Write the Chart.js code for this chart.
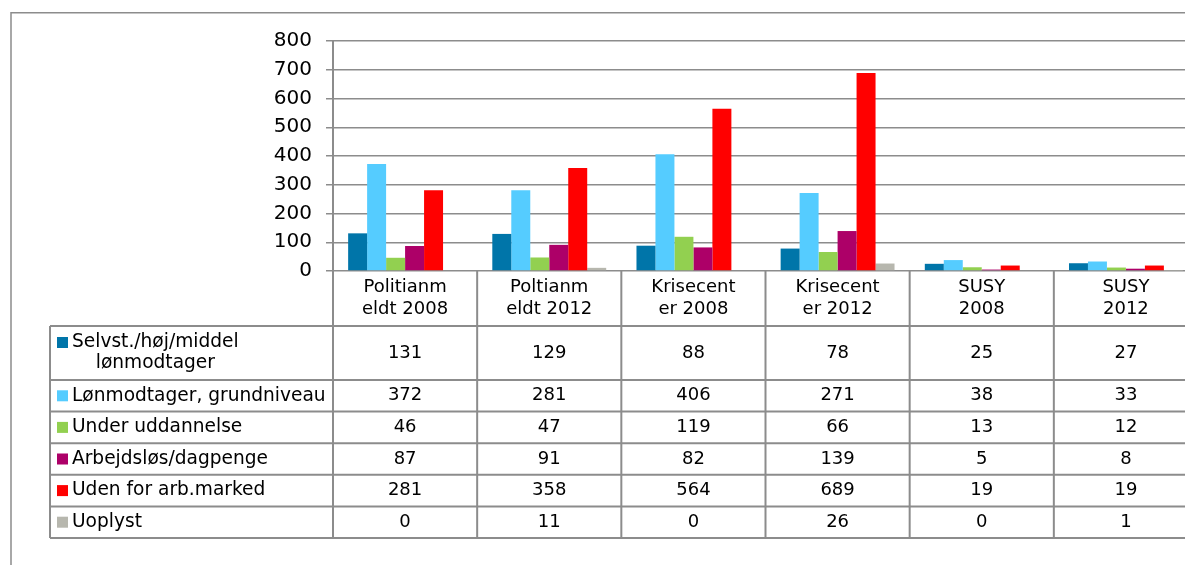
<!DOCTYPE html>
<html>
<head>
<meta charset="utf-8">
<script src="https://cdn.jsdelivr.net/npm/chart.js@4.4.1/dist/chart.umd.min.js"></script>
<style>
  html, body { margin: 0; padding: 0; background: #fff; overflow: hidden; }
  #wrap { position: absolute; left: 0; top: 0; width: 1200px; height: 565px; }
</style>
</head>
<body>
<div id="wrap"><canvas id="chart"></canvas></div>
<script>
// Kategorien (zweizeilig wie im Original umbrochen)
const CATEGORIES = [
  ['Politianm', 'eldt 2008'],
  ['Poltianm', 'eldt 2012'],
  ['Krisecent', 'er 2008'],
  ['Krisecent', 'er 2012'],
  ['SUSY', '2008'],
  ['SUSY', '2012'],
];

// Serien
const SERIES_NAMES = [
  ['Selvst./høj/middel', 'lønmodtager'],
  ['Lønmodtager, grundniveau'],
  ['Under uddannelse'],
  ['Arbejdsløs/dagpenge'],
  ['Uden for arb.marked'],
  ['Uoplyst'],
];
const SELVST     = [131, 129,  88,  78, 25, 27];
const GRUND      = [372, 281, 406, 271, 38, 33];
const UDDANNELSE = [ 46,  47, 119,  66, 13, 12];
const ARBEJDSLOS = [ 87,  91,  82, 139,  5,  8];
const UDEN       = [281, 358, 564, 689, 19, 19];
const UOPLYST    = [  0,  11,   0,  26,  0,  1];

const Y_MIN = 0, Y_MAX = 800, Y_STEP = 100;

const COLORS = ['#0075a9', '#55ccff', '#92d050', '#ad0068', '#ff0000', '#b7b7ae'];
const SERIES = [SELVST, GRUND, UDDANNELSE, ARBEJDSLOS, UDEN, UOPLYST];

const FONT = '"DejaVu Sans", Verdana, sans-serif';
const LINE = '#8c8c8c';

// Datentabelle + Rahmen unter dem Diagramm (nutzt die x-Skala des Charts)
const dataTable = {
  id: 'dataTable',
  afterDraw(chart) {
    const { ctx, chartArea } = chart;
    const n = CATEGORIES.length;
    const colW = (chartArea.right - chartArea.left) / n;
    const top = chartArea.bottom;           // Nulllinie
    const headerBottom = top + 55;
    const tableLeft = 50;
    const rowH = [54, 31.6, 31.6, 31.6, 31.6, 31.6];
    const rowTops = [headerBottom];
    rowH.forEach(h => rowTops.push(rowTops[rowTops.length - 1] + h));
    const tableBottom = rowTops[rowTops.length - 1];
    const W = chart.width;

    ctx.save();
    ctx.strokeStyle = LINE;
    ctx.lineWidth = 2;

    // horizontale Linien
    rowTops.forEach(y => {
      ctx.beginPath(); ctx.moveTo(tableLeft, y); ctx.lineTo(W, y); ctx.stroke();
    });
    // linker Tabellenrand
    ctx.beginPath(); ctx.moveTo(tableLeft, headerBottom); ctx.lineTo(tableLeft, tableBottom); ctx.stroke();
    // Spaltengrenzen
    for (let i = 0; i <= n; i++) {
      const x = chartArea.left + i * colW;
      ctx.beginPath(); ctx.moveTo(x, top); ctx.lineTo(x, tableBottom); ctx.stroke();
    }

    ctx.fillStyle = '#000';
    ctx.font = '18px ' + FONT;
    ctx.textBaseline = 'middle';

    // Kopfzeile
    ctx.textAlign = 'center';
    const hc = (top + headerBottom) / 2;
    CATEGORIES.forEach((lab, i) => {
      const cx = chartArea.left + (i + 0.5) * colW;
      ctx.fillText(lab[0], cx, hc - 11);
      ctx.fillText(lab[1], cx, hc + 11);
    });

    // Zeilen: Legendenschlüssel, Name, Werte
    SERIES.forEach((vals, r) => {
      const yc = (rowTops[r] + rowTops[r + 1]) / 2;
      const names = SERIES_NAMES[r];
      const y1 = names.length > 1 ? yc - 10.5 : yc;
      ctx.fillStyle = COLORS[r];
      ctx.fillRect(57, y1 - 5.5, 11, 11);
      ctx.fillStyle = '#000';
      ctx.font = '18.6px ' + FONT;
      ctx.textAlign = 'left';
      ctx.fillText(names[0], 72, y1);
      if (names.length > 1) {
        const mid = 72 + ctx.measureText(names[0]).width / 2;
        ctx.textAlign = 'center';
        ctx.fillText(names[1], mid, yc + 10.5);
      }
      ctx.font = '18px ' + FONT;
      ctx.textAlign = 'center';
      vals.forEach((v, i) => {
        ctx.fillText(String(v), chartArea.left + (i + 0.5) * colW, yc);
      });
    });

    // äußerer Rahmen (rechts/unten abgeschnitten)
    ctx.lineWidth = 1.5;
    ctx.beginPath();
    ctx.moveTo(11, chart.height);
    ctx.lineTo(11, 12.75);
    ctx.lineTo(W, 12.75);
    ctx.stroke();
    ctx.restore();
  }
};

new Chart(document.getElementById('chart'), {
  type: 'bar',
  data: {
    labels: CATEGORIES,
    datasets: SERIES.map((d, i) => ({
      label: SERIES_NAMES[i].join(' '),
      data: d,
      backgroundColor: COLORS[i],
      borderWidth: 0,
      barPercentage: 1,
      categoryPercentage: 0.79,
    }))
  },
  options: {
    responsive: true,
    maintainAspectRatio: false,
    animation: false,
    layout: { padding: { top: 41, bottom: 294, left: 0, right: 2 } },
    scales: {
      x: { display: false },
      y: {
        min: Y_MIN, max: Y_MAX,
        afterFit(scale) { scale.width = 333; },
        ticks: { stepSize: Y_STEP, color: '#000', padding: 14, font: { family: FONT, size: 20 } },
        grid: { color: LINE, lineWidth: 1.5, tickLength: 7, drawTicks: true },
        border: { display: true, color: LINE, width: 2 }
      }
    },
    plugins: { legend: { display: false }, tooltip: { enabled: false } }
  },
  plugins: [dataTable]
});
</script>
</body>
</html>
